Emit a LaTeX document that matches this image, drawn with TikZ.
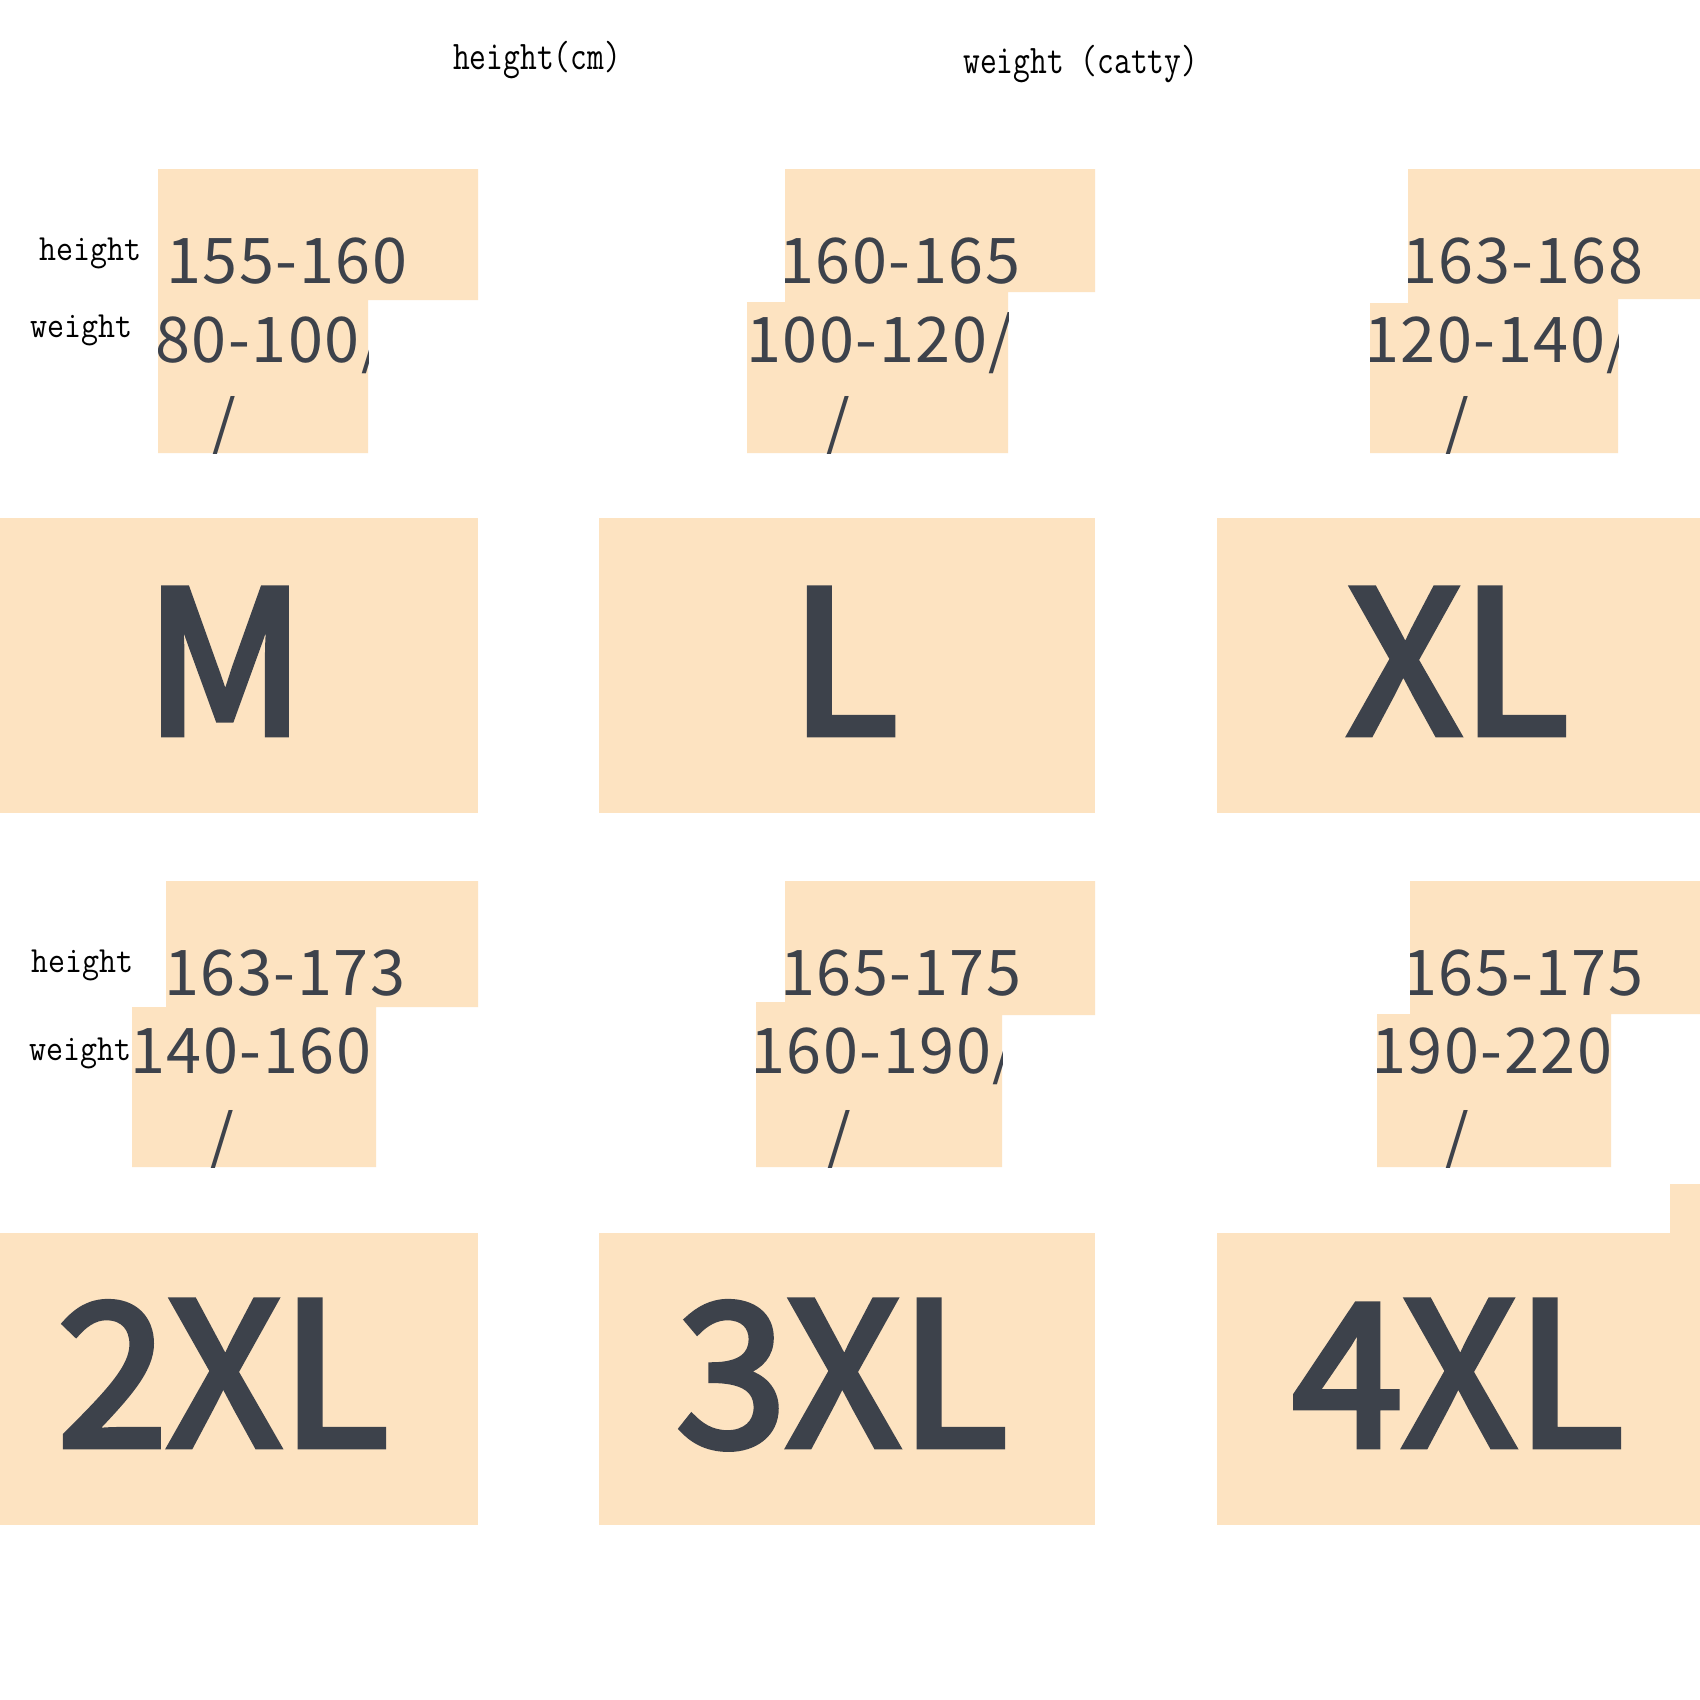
\documentclass[tikz,border=0pt]{standalone}
\usepackage{fontspec}
\newfontfamily\cjk{Noto Sans CJK SC}[LetterSpace=2.5]
\newfontfamily\cjkbig{Noto Sans CJK SC}[FakeBold=3.4]
\definecolor{peach}{HTML}{FDE3C1}
\definecolor{ink}{HTML}{3D424B}
\tikzset{
  lbl/.style={anchor=base west, inner sep=0pt, text=black, font=\ttfamily\fontsize{33}{33}\selectfont},
  hdr/.style={anchor=base west, inner sep=0pt, text=black, font=\ttfamily\fontsize{32.6}{32.6}\selectfont},
  num/.style={anchor=base west, inner sep=0pt, text=ink, font=\cjk\fontsize{63}{63}\selectfont},
  slashmark/.style={anchor=base, inner sep=0pt, text=ink, font=\cjk\fontsize{63}{63}\selectfont},
  big/.style={anchor=base, inner sep=0pt, text=ink, font=\cjkbig\fontsize{198}{198}\selectfont},
  peachfill/.style={fill=peach}
}
\begin{document}
\begin{tikzpicture}[x=1pt,y=-1pt]
\useasboundingbox (0,0) rectangle (1700,1700);
\fill[white] (0,0) rectangle (1700,1700);

% column headers
\node[hdr] (hcm) at (453,69) {\scalebox{1}[1.25]{height(cm)}};
\node[hdr] (wct) at (963,73) {\scalebox{1}[1.25]{weight (catty)}};

% row labels
\node[lbl] (h1) at (39,260) {\scalebox{1}[1.12]{height}};
\node[lbl] (w1) at (30,337) {\scalebox{1}[1.12]{weight}};
\node[lbl] (h2) at (31,972) {\scalebox{1}[1.12]{height}};
\node[lbl] (w2) at (29,1060) {\scalebox{1}[1.12]{weight}};

% ---- M ----
\begin{scope}
\clip (158,169) -- (478,169) -- (478,300) -- (368,300) -- (368,453) -- (158,453) -- cycle;
\fill[peachfill] (0,0) rectangle (1700,1700);
\node[num] (mh) at (166,283) {155-160};
\node[num] (mw) at (155,362) {80-100/};
\node[slashmark] (ms) at (224,446) {/};
\end{scope}

% ---- L ----
\begin{scope}
\clip (785,169) -- (1095,169) -- (1095,292) -- (1008,292) -- (1008,453) -- (747,453) -- (747,302) -- (785,302) -- cycle;
\fill[peachfill] (0,0) rectangle (1700,1700);
\node[num] (lh) at (779,283) {160-165};
\node[num] (lw) at (746,362) {100-120/};
\node[slashmark] (ls) at (838,446) {/};
\end{scope}

% ---- XL ----
\begin{scope}
\clip (1408,169) -- (1700,169) -- (1700,299) -- (1618,299) -- (1618,453) -- (1370,453) -- (1370,303) -- (1408,303) -- cycle;
\fill[peachfill] (0,0) rectangle (1700,1700);
\node[num] (xh) at (1402,283) {163-168};
\node[num] (xw) at (1364,362) {120-140/};
\node[slashmark] (xs) at (1457,446) {/};
\end{scope}

% ---- 2XL ----
\begin{scope}
\clip (166,881) -- (478,881) -- (478,1007) -- (376,1007) -- (376,1167) -- (132,1167) -- (132,1007) -- (166,1007) -- cycle;
\fill[peachfill] (0,0) rectangle (1700,1700);
\node[num] (ah) at (164,995) {163-173};
\node[num] (aw) at (130,1073) {140-160};
\node[slashmark] (as) at (222,1160) {/};
\end{scope}

% ---- 3XL ----
\begin{scope}
\clip (785,881) -- (1095,881) -- (1095,1015) -- (1002,1015) -- (1002,1167) -- (756,1167) -- (756,1002) -- (785,1002) -- cycle;
\fill[peachfill] (0,0) rectangle (1700,1700);
\node[num] (bh) at (780,995) {165-175};
\node[num] (bw) at (750,1073) {160-190/};
\node[slashmark] (bs) at (839,1160) {/};
\end{scope}

% ---- 4XL ----
\begin{scope}
\clip (1410,881) -- (1700,881) -- (1700,1014) -- (1611,1014) -- (1611,1167) -- (1377,1167) -- (1377,1014) -- (1410,1014) -- cycle;
\fill[peachfill] (0,0) rectangle (1700,1700);
\node[num] (ch) at (1402,995) {165-175};
\node[num] (cw) at (1371,1073) {190-220};
\node[slashmark] (cs) at (1457,1160) {/};
\end{scope}

% ---- big size boxes ----
\fill[peachfill] (0,518) rectangle (478,813);
\fill[peachfill] (599,518) rectangle (1095,813);
\fill[peachfill] (1217,518) rectangle (1700,813);
\fill[peachfill] (0,1233) rectangle (478,1525);
\fill[peachfill] (599,1233) rectangle (1095,1525);
\fill[peachfill] (1217,1233) rectangle (1700,1525);
\fill[peachfill] (1670,1184) rectangle (1700,1234);

\node[big] (sM) at (225,734) {M};
\node[big] (sL) at (844,734) {L};
\node[big] (sXL) at (1458,734) {XL};
\node[big] (s2) at (223,1446) {2XL};
\node[big] (s3) at (842,1446) {3XL};
\node[big] (s4) at (1458,1446) {4XL};
\end{tikzpicture}
\end{document}
